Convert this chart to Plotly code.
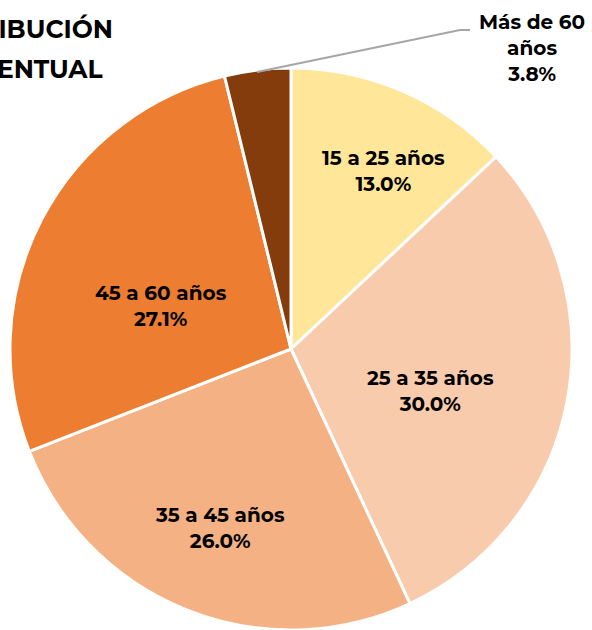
import plotly.graph_objects as go

labels = ["15 a 25 años", "25 a 35 años", "35 a 45 años", "45 a 60 años", "Más de 60 años"]
values = [13.0, 30.0, 26.0, 27.1, 3.8]
colors = ["#FFE699", "#F8CBAD", "#F4B183", "#ED7D31", "#843C0C"]
title_lines = ["DISTRIBUCIÓN", "PORCENTUAL"]

W, H = 592, 630
FONT = "Montserrat, Open Sans, sans-serif"

# label anchor positions (pixels from top-left) for data labels, layout only
label_pos = [(383, 171), (430, 391), (220, 528), (161, 306), (532, 48)]

fig = go.Figure(go.Pie(
    labels=labels,
    values=values,
    textinfo="none",
    sort=False,
    direction="clockwise",
    rotation=0,
    marker=dict(colors=colors, line=dict(color="white", width=3)),
    domain=dict(x=[9 / W, 573 / W], y=[0, 562 / H]),
    showlegend=False,
    hoverinfo="label+percent",
))

# data labels
for i, (lab, val) in enumerate(zip(labels, values)):
    px, py = label_pos[i]
    if i == len(labels) - 1:
        txt = "<b>Más de 60<br>años<br>" + f"{val:.1f}%</b>"
    else:
        txt = f"<b>{lab}<br>{val:.1f}%</b>"
    fig.add_annotation(x=px / W, y=1 - py / H, xref="paper", yref="paper",
                       text=txt, showarrow=False, xanchor="center",
                       yanchor="middle", align="center",
                       font=dict(family=FONT, size=20, color="black"))

# leader line for the small slice
fig.add_shape(type="path", xref="paper", yref="paper",
              path=f"M {257/W} {1-72/H} L {460/W} {1-30/H} L {470/W} {1-30/H}",
              line=dict(color="#A6A6A6", width=2))

# title (cut off at the left edge as in the reference)
fig.add_annotation(x=115 / W, y=1 - 29 / H, xref="paper", yref="paper",
                   text=f"<b>{title_lines[0]}</b>", showarrow=False,
                   xanchor="right", yanchor="middle",
                   font=dict(family=FONT, size=25, color="black"))
fig.add_annotation(x=105 / W, y=1 - 69 / H, xref="paper", yref="paper",
                   text=f"<b>{title_lines[1]}</b>", showarrow=False,
                   xanchor="right", yanchor="middle",
                   font=dict(family=FONT, size=25, color="black"))

fig.update_layout(
    width=W, height=H,
    margin=dict(l=0, r=0, t=0, b=0),
    paper_bgcolor="white",
    plot_bgcolor="white",
)

fig.write_html("out.html", config={"displayModeBar": False},
               post_script="document.body.style.margin='0';document.body.style.overflow='hidden';")
